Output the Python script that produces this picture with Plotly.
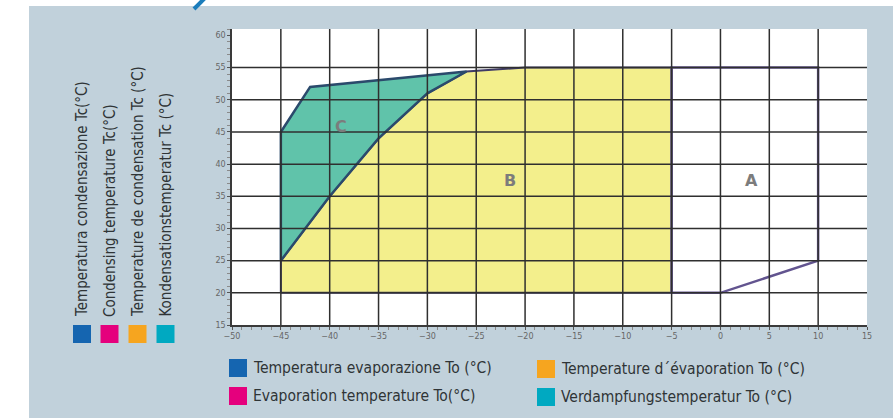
import plotly.graph_objects as go

# Operating envelope: evaporation temperature To vs condensing temperature Tc
region_a_to = [-5, -5, 10, 10, 0, -5]
region_a_tc = [20, 55, 55, 25, 20, 20]

region_b_to = [-45, -45, -40, -35, -30, -26, -20, -5, -5, -45]
region_b_tc = [20, 25, 35, 44, 51, 54.4, 55, 55, 20, 20]

region_c_to = [-45, -45, -42, -26, -30, -35, -40, -45]
region_c_tc = [25, 45, 52, 54.4, 51, 44, 35, 25]

region_labels = ["A", "B", "C"]
label_to = [3.2, -21.5, -38.8]
label_tc = [37.5, 37.5, 45.8]

x_ticks = list(range(-50, 16, 5))
y_ticks = list(range(15, 61, 5))
x_grid = list(range(-45, 11, 5))
y_grid = list(range(20, 56, 5))

tc_titles = [
    "Temperatura condensazione Tc(°C)",
    "Condensing temperature Tc(°C)",
    "Temperature de condensation Tc (°C)",
    "Kondensationstemperatur Tc (°C)",
]
to_titles = [
    "Temperatura evaporazione To (°C)",
    "Evaporation temperature To(°C)",
    "Temperature d´évaporation To (°C)",
    "Verdampfungstemperatur To (°C)",
]
lang_colors = ["#1565b0", "#e5007d", "#f6a51f", "#00a9c1"]

W, H = 893, 418
L, R, T, B = 232, 26, 29, 93
PW, PH = W - L - R, H - T - B


def px_x(p):
    return (p - L) / PW


def px_y(p):
    return (H - B - p) / PH


TEXT_FONT = "DejaVu Sans Condensed, Liberation Sans Narrow, sans-serif"

fig = go.Figure()

fig.add_trace(go.Scatter(
    x=region_b_to, y=region_b_tc, mode="lines", fill="toself",
    fillcolor="#f3ef8c", line=dict(color="#3f3b66", width=2),
    hoverinfo="skip", showlegend=False,
))
fig.add_trace(go.Scatter(
    x=region_c_to, y=region_c_tc, mode="lines", fill="toself",
    fillcolor="#60c3aa", line=dict(color="#2b4a6c", width=2.5),
    hoverinfo="skip", showlegend=False,
))
fig.add_trace(go.Scatter(
    x=region_a_to, y=region_a_tc, mode="lines",
    line=dict(color="#62548f", width=2.5),
    hoverinfo="skip", showlegend=False,
))

shapes = []
# white page margin around the blue-grey panel
shapes.append(dict(type="rect", xref="paper", yref="paper",
                   x0=px_x(0), x1=px_x(29), y0=px_y(H), y1=px_y(0),
                   fillcolor="white", line=dict(width=0)))
shapes.append(dict(type="rect", xref="paper", yref="paper",
                   x0=px_x(0), x1=px_x(W), y0=px_y(6), y1=px_y(0),
                   fillcolor="white", line=dict(width=0)))
# heading stroke peeking above the panel
shapes.append(dict(type="line", xref="paper", yref="paper",
                   x0=px_x(194), y0=px_y(9), x1=px_x(205), y1=px_y(-2),
                   line=dict(color="#1b7dbb", width=4)))

# grid drawn over the filled regions
for v in x_grid:
    shapes.append(dict(type="line", xref="x", yref="paper", x0=v, x1=v,
                       y0=0, y1=1, line=dict(color="#2f2f2f", width=1.5)))
for v in y_grid:
    shapes.append(dict(type="line", xref="paper", yref="y", x0=0, x1=1,
                       y0=v, y1=v, line=dict(color="#2f2f2f", width=1.5)))

annotations = []
for lbl, xv, yv in zip(region_labels, label_to, label_tc):
    annotations.append(dict(x=xv, y=yv, xref="x", yref="y", text="<b>" + lbl + "</b>",
                            showarrow=False,
                            font=dict(family="DejaVu Sans", size=16, color="#7c7c7c")))

# vertical legend for the condensing-temperature axis
v_centers = [82, 109.5, 137.5, 165.5]
for i, (txt, col) in enumerate(zip(tc_titles, lang_colors)):
    cx = v_centers[i]
    shapes.append(dict(type="rect", xref="paper", yref="paper",
                       x0=px_x(cx - 9), x1=px_x(cx + 9),
                       y0=px_y(343), y1=px_y(325),
                       fillcolor=col, line=dict(width=0)))
    annotations.append(dict(x=px_x(cx), y=px_y(319), xref="paper", yref="paper",
                            text=txt, textangle=-90, showarrow=False,
                            xanchor="center", yanchor="bottom",
                            font=dict(family=TEXT_FONT, size=15, color="#2f3436")))

# horizontal legend for the evaporation-temperature axis
h_pos = [(229, 368), (229, 396), (537, 369), (537, 397)]
for (sx, cy), txt, col in zip(h_pos, to_titles, lang_colors):
    shapes.append(dict(type="rect", xref="paper", yref="paper",
                       x0=px_x(sx), x1=px_x(sx + 18),
                       y0=px_y(cy + 9), y1=px_y(cy - 9),
                       fillcolor=col, line=dict(width=0)))
    annotations.append(dict(x=px_x(sx + 22), y=px_y(cy), xref="paper", yref="paper",
                            text=txt, showarrow=False,
                            xanchor="left", yanchor="middle",
                            font=dict(family=TEXT_FONT, size=15.5, color="#2f3436")))

axis_common = dict(
    showgrid=False, zeroline=False, showline=True,
    linecolor="#3a3a3a", linewidth=1.5,
    ticks="outside", ticklen=3, tickcolor="#555555", tickwidth=1,
    tickfont=dict(family="DejaVu Sans, sans-serif", size=8, color="#666666"),
)

fig.update_layout(
    width=W, height=H,
    margin=dict(l=L, r=R, t=T, b=B),
    paper_bgcolor="#c1d1db",
    plot_bgcolor="white",
    showlegend=False,
    xaxis=dict(range=[-50, 15], tickvals=x_ticks,
               minor=dict(dtick=1, ticks="outside", ticklen=3, tickcolor="#8a8a8a"),
               **axis_common),
    yaxis=dict(range=[15, 61], tickvals=y_ticks,
               minor=dict(dtick=1, ticks="outside", ticklen=3, tickcolor="#8a8a8a"),
               **axis_common),
    shapes=shapes,
    annotations=annotations,
)

fig.write_html("out.html")
